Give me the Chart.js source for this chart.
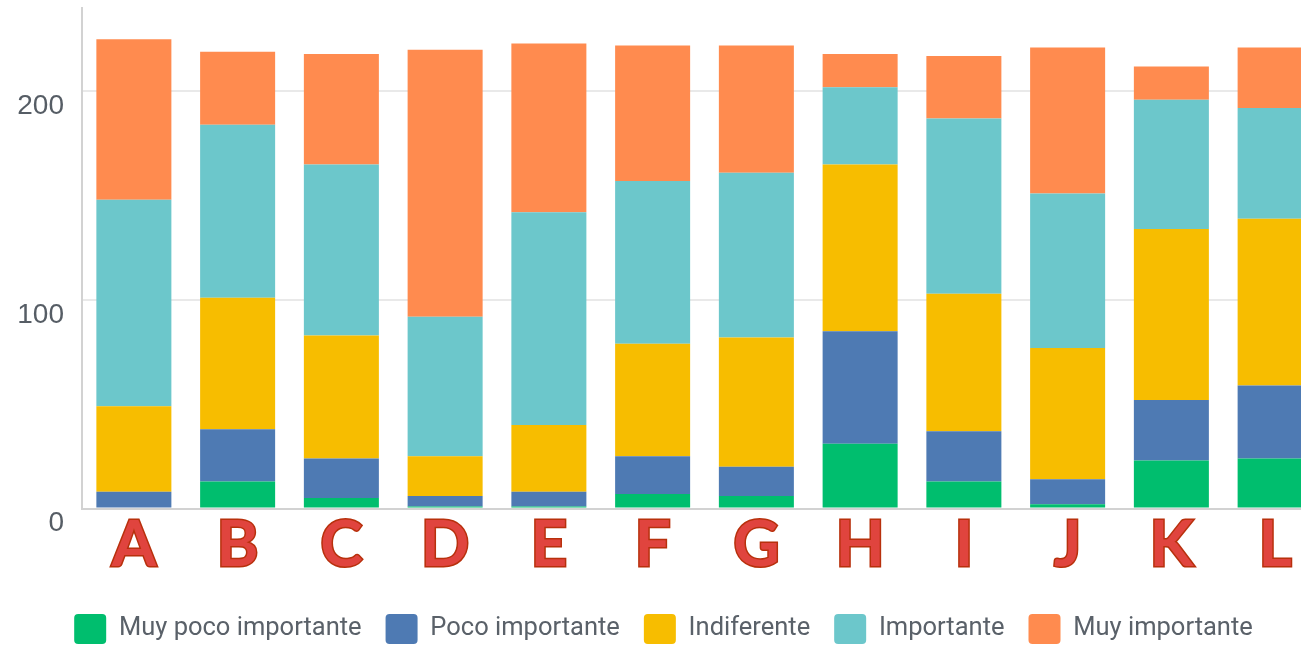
<!DOCTYPE html>
<html>
<head>
<meta charset="utf-8">
<script src="https://cdn.jsdelivr.net/npm/chart.js@4/dist/chart.umd.min.js"></script>
<style>
	html, body { margin: 0; padding: 0; background: #fff; overflow: hidden; }
	#wrap { width: 1330px; height: 649px; position: relative; }
</style>
</head>
<body>
<div id="wrap"><canvas id="chart"></canvas></div>
<script>
// categories and series
const categories = ['A', 'B', 'C', 'D', 'E', 'F', 'G', 'H', 'I', 'J', 'K', 'L'];
const seriesNames = ['Muy poco importante', 'Poco importante', 'Indiferente', 'Importante', 'Muy importante'];
const muyPoco    = [0, 13, 5, 1, 1, 7, 6, 31, 13, 2, 23, 24];
const poco       = [8, 25, 19, 5, 7, 18, 14, 54, 24, 12, 29, 35];
const indiferente = [41, 63, 59, 19, 32, 54, 62, 80, 66, 63, 82, 80];
const importante = [99, 83, 82, 67, 102, 78, 79, 37, 84, 74, 62, 53];
const muyImport  = [77, 35, 53, 128, 81, 65, 61, 16, 30, 70, 16, 29];
const yTicks = [0, 100, 200];

const colors = ['#00be6e', '#4e7ab3', '#f7bd00', '#6cc7cb', '#ff8b4f'];
const values = [muyPoco, poco, indiferente, importante, muyImport];

// red "word art" letters under the bars
function letterFill(ctx) {
	const s = ctx.chart.scales.x;
	if (!s || !isFinite(s.top)) return '#c40a0a';
	const g = ctx.chart.ctx.createLinearGradient(0, s.top + 8, 0, s.top + 62);
	g.addColorStop(0, '#e0443e');
	g.addColorStop(0.45, '#c00808');
	g.addColorStop(0.8, '#cc1c18');
	g.addColorStop(1, '#f08a84');
	return g;
}

new Chart(document.getElementById('chart'), {
	type: 'bar',
	data: {
		labels: categories,
		datasets: seriesNames.map(function (name, i) {
			return {
				label: name,
				data: values[i],
				backgroundColor: colors[i],
				borderWidth: 0,
				categoryPercentage: 1,
				barPercentage: 0.723
			};
		})
	},
	options: {
		responsive: true,
		maintainAspectRatio: false,
		animation: false,
		layout: { padding: { top: 8, right: 3, left: 0, bottom: -5 } },
		plugins: {
			tooltip: { enabled: false },
			legend: {
				position: 'bottom',
				labels: {
					boxWidth: 32,
					boxHeight: 30,
					useBorderRadius: true,
					borderRadius: 4,
					padding: 24,
					color: '#5a6169',
					font: { family: 'Roboto', size: 25.5 }
				}
			}
		},
		scales: {
			x: {
				stacked: true,
				grid: { display: false, drawTicks: false },
				border: { color: '#d2d2d2', width: 2 },
				afterFit: function (scale) { scale.height = 81.5; },
				ticks: {
					autoSkip: false,
					maxRotation: 0,
					padding: -2,
					color: letterFill,
					textStrokeColor: '#b8300c',
					textStrokeWidth: 3,
					font: { family: 'Lato', size: 64, weight: 'bold' }
				}
			},
			y: {
				stacked: true,
				min: 0,
				max: 240,
				afterFit: function (scale) {
					scale.width = 82;
					scale.paddingTop = 0;
					scale.paddingBottom = 0;
				},
				afterBuildTicks: function (scale) {
					scale.ticks = yTicks.map(function (v) { return { value: v }; });
				},
				grid: { color: '#e9e9e9', lineWidth: 2, drawTicks: false },
				border: { color: '#d2d2d2', width: 2 },
				ticks: {
					padding: 18,
					labelOffset: 15,
					color: '#565d65',
					font: { family: 'Liberation Sans', size: 28 }
				}
			}
		}
	}
});
</script>
</body>
</html>
